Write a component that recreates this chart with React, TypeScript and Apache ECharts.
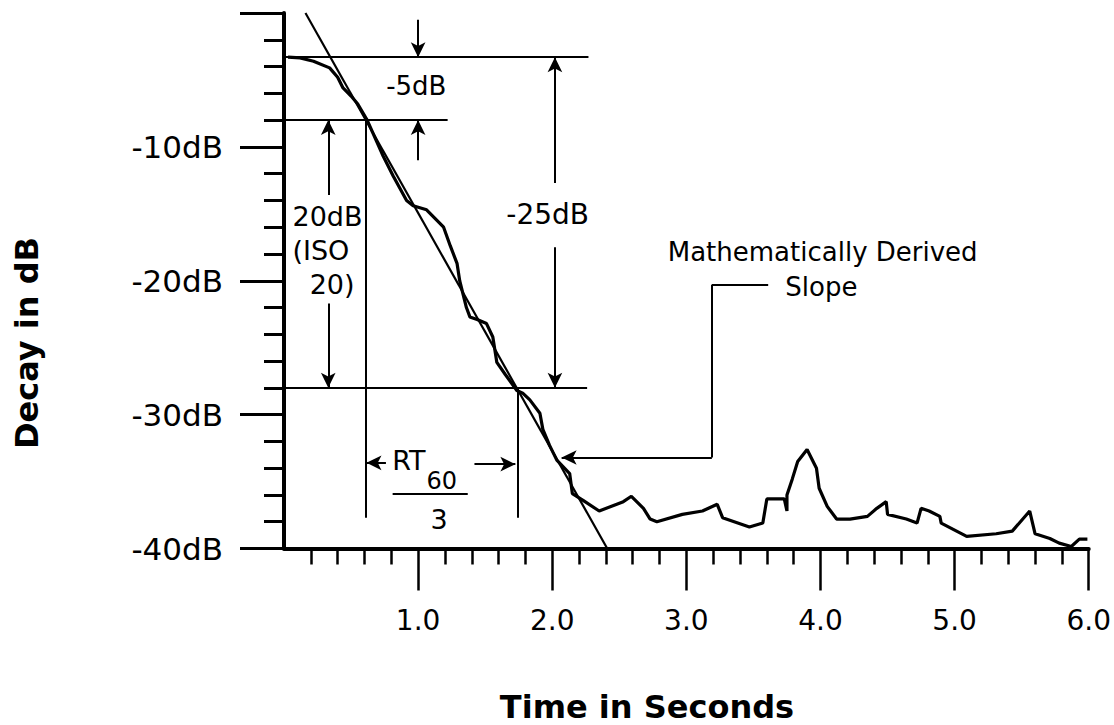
import React, { useEffect, useRef } from "react";
import * as echarts from "echarts";

// Measured decay curve (time in s, level in dB)
const decayTime = [0.03, 0.12, 0.22, 0.34, 0.4, 0.44, 0.5, 0.55, 0.62, 0.74, 0.815, 0.914, 0.963, 1.063, 1.19, 1.24, 1.29, 1.31, 1.36, 1.386, 1.44, 1.51, 1.557, 1.587, 1.65, 1.736, 1.78, 1.833, 1.908, 1.93, 1.98, 2.034, 2.13, 2.15, 2.23, 2.35, 2.53, 2.59, 2.68, 2.73, 2.78, 2.97, 3.12, 3.23, 3.27, 3.47, 3.57, 3.6, 3.73, 3.75, 3.75, 3.79, 3.83, 3.9, 3.97, 3.99, 4.05, 4.12, 4.22, 4.35, 4.42, 4.49, 4.5, 4.64, 4.72, 4.75, 4.81, 4.89, 4.9, 5.09, 5.31, 5.43, 5.56, 5.6, 5.71, 5.78, 5.87, 5.93, 5.99];
const decayDb = [-3.3, -3.35, -3.6, -4.1, -4.8, -5.6, -6.2, -6.8, -8.0, -10.7, -12.2, -14.0, -14.4, -14.7, -16.0, -17.4, -18.7, -20.0, -22.0, -22.7, -22.9, -23.2, -24.2, -26.1, -27.0, -28.2, -28.4, -28.9, -29.9, -31.1, -32.3, -33.4, -34.4, -35.9, -36.4, -37.2, -36.5, -36.1, -37.0, -37.8, -38.0, -37.45, -37.2, -36.7, -37.7, -38.4, -38.1, -36.3, -36.3, -37.2, -36.0, -34.8, -33.5, -32.6, -34.0, -35.5, -36.85, -37.8, -37.8, -37.6, -37.0, -36.5, -37.45, -37.8, -38.1, -37.0, -37.2, -37.6, -38.1, -39.1, -38.9, -38.7, -37.2, -38.9, -39.25, -39.6, -39.85, -39.3, -39.3];

// Mathematically derived slope
const slopeTime = [0.16, 2.41];
const slopeDb = [0, -40];

// Tick labels
const xTickValues = [1, 2, 3, 4, 5, 6];
const xTickLabels = ["1.0", "2.0", "3.0", "4.0", "5.0", "6.0"];
const yTickValues = [-10, -20, -30, -40];
const yTickLabels = ["-10dB", "-20dB", "-30dB", "-40dB"];

// Annotation segments [t0, dB0, t1, dB1]
const plainSegments = [
  [0, -3.3, 2.27, -3.3],
  [0, -8.0, 1.22, -8.0],
  [0, -28.0, 2.26, -28.0],
  [0.61, -8.0, 0.61, -37.7],
  [1.74, -28.0, 1.74, -37.7],
  [0.81, -35.9, 1.37, -35.9],
  [3.61, -20.3, 3.19, -20.3],
  [3.19, -20.3, 3.19, -33.2],
];
const arrowSegments = [
  [1.0, -0.5, 1.0, -3.3],
  [1.0, -11.0, 1.0, -8.0],
  [2.02, -12.7, 2.02, -3.3],
  [2.02, -17.5, 2.02, -28.0],
  [0.33, -13.6, 0.33, -8.0],
  [0.33, -21.7, 0.33, -28.0],
  [0.76, -33.6, 0.615, -33.6],
  [1.42, -33.7, 1.725, -33.7],
  [3.19, -33.2, 2.07, -33.2],
];

// Annotation texts
const noteTexts = ["-5dB", "-25dB", "20dB\n(ISO\n  20)", "RT", "60", "3", "Mathematically Derived", "Slope"];
const noteTime = [0.99, 1.97, 0.067, 0.81, 1.066, 1.16, 4.02, 4.01];
const noteDb = [-5.5, -15.1, -17.8, -33.5, -35.0, -37.9, -17.9, -20.5];
const noteAlign = ["center", "center", "left", "left", "left", "center", "center", "center"];
const noteSize = [26, 28, 27, 27, 24, 27, 26, 26];

const FONT = "DejaVu Sans";

export default function App() {
  const ref = useRef<HTMLDivElement>(null);
  useEffect(() => {
    const chart = echarts.init(ref.current as HTMLDivElement, null, { renderer: "svg" });
    const seg = (s: number[], arrow: boolean) => [
      { coord: [s[0], s[1]], symbol: "none" },
      { coord: [s[2], s[3]], symbol: arrow ? "arrow" : "none", symbolSize: [11, 15] },
    ];
    const lineData = [
      ...plainSegments.map((s) => seg(s, false)),
      ...arrowSegments.map((s) => seg(s, true)),
    ];
    chart.setOption({
      animation: false,
      backgroundColor: "#fff",
      grid: { left: 284, right: 25, top: 13, bottom: 176.5 },
      xAxis: {
        type: "value",
        min: 0,
        max: 6,
        interval: 1,
        axisLine: { show: true, onZero: false, lineStyle: { color: "#000", width: 4 } },
        axisTick: { show: true, length: 42, customValues: xTickValues, lineStyle: { color: "#000", width: 2.5 } },
        minorTick: { show: true, splitNumber: 5, length: 16, lineStyle: { color: "#000", width: 2.5 } },
        splitLine: { show: false },
        axisLabel: {
          color: "#000",
          fontFamily: FONT,
          fontSize: 28,
          margin: 58,
          formatter: (v: number) => {
            const i = xTickValues.indexOf(v);
            return i >= 0 ? xTickLabels[i] : "";
          },
        },
      },
      yAxis: {
        type: "value",
        min: -40,
        max: 0,
        interval: 10,
        axisLine: { show: true, onZero: false, lineStyle: { color: "#000", width: 4 } },
        axisTick: { show: true, length: 44, lineStyle: { color: "#000", width: 3 } },
        minorTick: { show: true, splitNumber: 5, length: 20, lineStyle: { color: "#000", width: 3 } },
        splitLine: { show: false },
        axisLabel: {
          color: "#000",
          fontFamily: FONT,
          fontSize: 31,
          margin: 61,
          formatter: (v: number) => {
            const i = yTickValues.indexOf(v);
            return i >= 0 ? yTickLabels[i] : "";
          },
        },
      },
      graphic: [
        {
          type: "text",
          x: 27,
          y: 343,
          rotation: Math.PI / 2,
          style: {
            text: "Decay in dB",
            fontFamily: FONT,
            fontWeight: "bold",
            fontSize: 32,
            fill: "#000",
            align: "center",
            verticalAlign: "middle",
          },
        },
        {
          type: "text",
          x: 647,
          y: 707,
          style: {
            text: "Time in Seconds",
            fontFamily: FONT,
            fontWeight: "bold",
            fontSize: 32,
            fill: "#000",
            align: "center",
            verticalAlign: "middle",
          },
        },
      ],
      series: [
        {
          name: "Decay",
          type: "line",
          data: decayTime.map((t, i) => [t, decayDb[i]]),
          symbol: "none",
          lineStyle: { color: "#000", width: 3.2 },
          z: 4,
          markLine: {
            silent: true,
            animation: false,
            symbol: ["none", "arrow"],
            symbolSize: [11, 15],
            label: { show: false },
            lineStyle: { color: "#000", width: 2, type: "solid", opacity: 1 },
            emphasis: { disabled: true },
            data: lineData,
          },
        },
        {
          name: "Slope",
          type: "line",
          data: slopeTime.map((t, i) => [t, slopeDb[i]]),
          symbol: "none",
          lineStyle: { color: "#000", width: 2.2 },
          z: 3,
        },
        {
          name: "Notes",
          type: "scatter",
          symbolSize: 1,
          itemStyle: { color: "rgba(0,0,0,0)" },
          silent: true,
          z: 5,
          data: noteTexts.map((text, i) => ({
            value: [noteTime[i], noteDb[i]],
            label: {
              show: true,
              position: [0, 0],
              formatter: text,
              align: noteAlign[i],
              verticalAlign: "middle",
              fontFamily: FONT,
              fontSize: noteSize[i],
              lineHeight: 34,
              color: "#000",
              opacity: 1,
              textBorderWidth: 0,
            },
          })),
        },
      ],
    });
    return () => chart.dispose();
  }, []);
  return (
    <div
      ref={ref}
      style={{ position: "fixed", left: 0, top: 0, width: 1114, height: 725, background: "#fff" }}
    />
  );
}
